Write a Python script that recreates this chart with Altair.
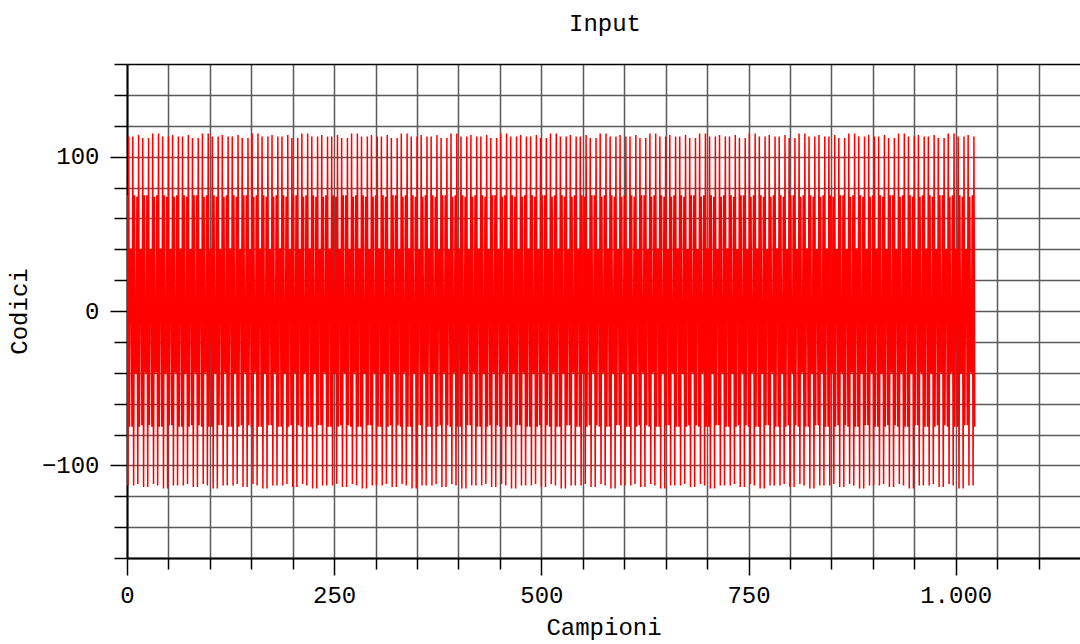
import altair as alt
import pandas as pd
import numpy as np

# repeating pattern of the input codes (levels: about ±113, ±75, ±40)
cycle_codes = [75, -113, 113, -75, 40, 40, -75, 113, -113, 75, -40, -40,
               74, -112, 114, -75, 39, 40, -74, 112, -114, 75, -39, -40,
               75, -114, 112, -74, 40, 39, -75, 115, -112, 74, -40, -39,
               75, -113, 115, -75, 40, 40, -75, 113, -115, 75, -40, -40,
               74, -115, 113, -74, 39, 40, -74, 114, -113, 74, -39, -40]
n_samples = 1024
x_ticks = list(range(0, 1101, 50))
y_ticks = list(range(-160, 161, 20))
title_text = ["Input"]

samples = np.arange(n_samples)
codes = np.resize(np.array(cycle_codes), n_samples)
df = pd.DataFrame({"campione": samples, "codice": codes})

FONT = "Liberation Mono"

line = alt.Chart(df).mark_line(color="#ff0000", strokeWidth=1.5, clip=True).encode(
    x=alt.X("campione:Q",
            scale=alt.Scale(domain=[0, 1150], nice=False, zero=False),
            axis=alt.Axis(values=x_ticks, grid=True, gridColor="#5a5a5a", gridWidth=1.5,
                          tickColor="black", tickWidth=1.5,
                          tickSize={"condition": {"test": "datum.value % 250 === 0", "value": 17}, "value": 11},
                          labelExpr="datum.value % 250 === 0 ? replace(format(datum.value, ','), ',', '.') : ''",
                          labelFont=FONT, labelFontSize=24, labelColor="black", labelPadding=8,
                          labelFlush=False, labelOverlap=False,
                          domainColor="black", domainWidth=2,
                          title="Campioni", titleFont=FONT, titleFontSize=24, titleFontWeight="normal",
                          titleColor="black", titlePadding=8)),
    y=alt.Y("codice:Q",
            scale=alt.Scale(domain=[-160, 160], nice=False, zero=False),
            axis=alt.Axis(values=y_ticks, grid=True,
                          gridColor={"condition": {"test": "datum.value === 160", "value": "black"}, "value": "#5a5a5a"},
                          gridWidth=1.5,
                          tickColor="black", tickWidth=1.5,
                          tickSize={"condition": {"test": "datum.value % 100 === 0", "value": 17}, "value": 13},
                          labelExpr="datum.value % 100 === 0 ? datum.label : ''",
                          labelFont=FONT, labelFontSize=24, labelColor="black", labelPadding=11,
                          labelFlush=False, labelOverlap=False,
                          domainColor="black", domainWidth=2,
                          title="Codici", titleFont=FONT, titleFontSize=24, titleFontWeight="normal",
                          titleColor="black", titlePadding=10)),
)

title = alt.Chart(pd.DataFrame({"t": title_text})).mark_text(
    font=FONT, fontSize=24, color="black", align="center", baseline="alphabetic"
).encode(text="t:N", x=alt.value(478), y=alt.value(-33))

chart = alt.layer(line, title).properties(
    width=953, height=494,
    padding={"left": 127, "top": 64, "right": 0, "bottom": 86},
    autosize=alt.AutoSizeParams(type="none"),
).configure_view(stroke=None).configure(background="white")

chart.save("out.html", embed_options={"renderer": "svg", "actions": False})
